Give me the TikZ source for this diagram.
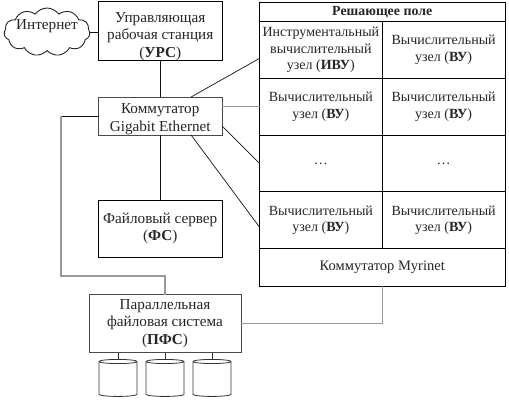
\documentclass[tikz,border=0pt]{standalone}
\usepackage{fontspec}
\setmainfont{Liberation Serif}
\usetikzlibrary{calc,positioning,shapes.geometric,shapes.symbols}
\definecolor{Wire}{HTML}{111111}
\definecolor{Trunk}{HTML}{9A9A9A}
\definecolor{Frame}{HTML}{4A4A4A}
\tikzset{
  wire/.style={line width=0.7pt,draw=Wire},
  trunk/.style={line width=1.2pt,draw=Trunk},
  nodebase/.style={draw=black,line width=0.9pt,fill=white,align=center,inner sep=0pt,outer sep=0pt,
    text=black!85,font=\fontsize{15.2}{17.5}\selectfont},
  unitbox/.style={nodebase,minimum width=123.5pt,minimum height=57pt},
  cellbox/.style={nodebase,minimum width=122.75pt,minimum height=56.75pt,font=\fontsize{14}{16.8}\selectfont},
  disk/.style={cylinder,shape border rotate=90,aspect=0.26,draw=black!80,line width=0.8pt,fill=white,
    minimum width=38pt,minimum height=37pt,inner sep=8pt,outer sep=0pt},
}

\begin{document}
\begin{tikzpicture}[x=1pt,y=-1pt,node distance=0pt]
        \useasboundingbox (0,0) rectangle (509,402);
        % left column
        \node[nodebase,cloud,cloud puffs=11,cloud puff arc=110,aspect=1.8,draw=black!85,minimum width=86pt,minimum height=48pt,
          label={[font=\fontsize{15.2}{17.5}\selectfont,text=black!85,yshift=6pt]center:Интернет}] (inet) at (47,32) {};
        \node[unitbox] (urs) at (160.25,31) {\rule{0pt}{21pt}Управляющая\\рабочая станция\\(\textbf{УРС})};
        \node[unitbox,draw=Frame,minimum height=38pt] (gbe) at (160.25,116) {\rule{0pt}{16pt}Коммутатор\\Gigabit Ethernet};
        \node[unitbox] (fs) at (160.25,228.5) {Файловый сервер\\(\textbf{ФС})};
        \node[nodebase,draw=Frame,minimum width=152pt,minimum height=58pt] (pfs) at (165,323.5) {Параллельная\\файловая система\\(\textbf{ПФС})};
        \node[disk] (d1) at (118,380) {};
        \node[disk] (d2) at (165,380) {};
        \node[disk] (d3) at (212,380) {};
        % solver field
        \node[nodebase,minimum width=245.5pt,minimum height=19pt,font=\fontsize{13.9}{15}\selectfont\bfseries] (hdr) at (382.25,12) {Решающее поле};
        \node[cellbox,below=of hdr.south west,anchor=north west] (ivu) {Инструментальный\\вычислительный\\узел (\textbf{ИВУ})};
        \node[cellbox,right=of ivu] (vu12) {Вычислительный\\узел (\textbf{ВУ})};
        \node[cellbox,below=of ivu] (vu21) {Вычислительный\\узел (\textbf{ВУ})};
        \node[cellbox,right=of vu21] (vu22) {Вычислительный\\узел (\textbf{ВУ})};
        \node[cellbox,below=of vu21] (dots1) {\dots};
        \node[cellbox,right=of dots1] (dots2) {\dots};
        \node[cellbox,below=of dots1] (vu41) {Вычислительный\\узел (\textbf{ВУ})};
        \node[cellbox,right=of vu41] (vu42) {Вычислительный\\узел (\textbf{ВУ})};
        \node[nodebase,font=\fontsize{14.5}{17}\selectfont,minimum width=245.5pt,minimum height=37.5pt,below=of vu41.south west,anchor=north west] (myri) {Коммутатор Myrinet};
        \draw[line width=1.5pt] (vu41.north east) -- (vu41.south east);
        % links
        \draw[wire] (inet.east) -- (urs.west |- inet.east);
        \draw[wire] (urs) -- (gbe);
        \draw[wire] (gbe) -- (fs);
        \draw[wire] ($(gbe.north)!0.5!(gbe.north east)$) -- ($(ivu.west)+(0,8.5)$);
        \draw[trunk] (gbe.east |- vu21.west) -- (vu21.west);
        \draw[wire] ($(gbe.east)+(0,10)$) -- (dots1.west);
        \draw[wire] ($(gbe.south)!0.5!(gbe.south east)$) -- ($(vu41.west)+(0,7)$);
        \draw[wire] (gbe.west) -- (61,116);
        \draw[trunk] (61,116) |- (110,276) -| (pfs.north);
        \draw[trunk] (pfs.east) -| (myri.south);
        \draw[wire,draw=black!80] (d1.north) -- (d1.north |- pfs.south);
        \draw[wire,draw=black!80] (d2.north) -- (d2.north |- pfs.south);
        \draw[wire,draw=black!80] (d3.north) -- (d3.north |- pfs.south);
      \end{tikzpicture}
\end{document}
